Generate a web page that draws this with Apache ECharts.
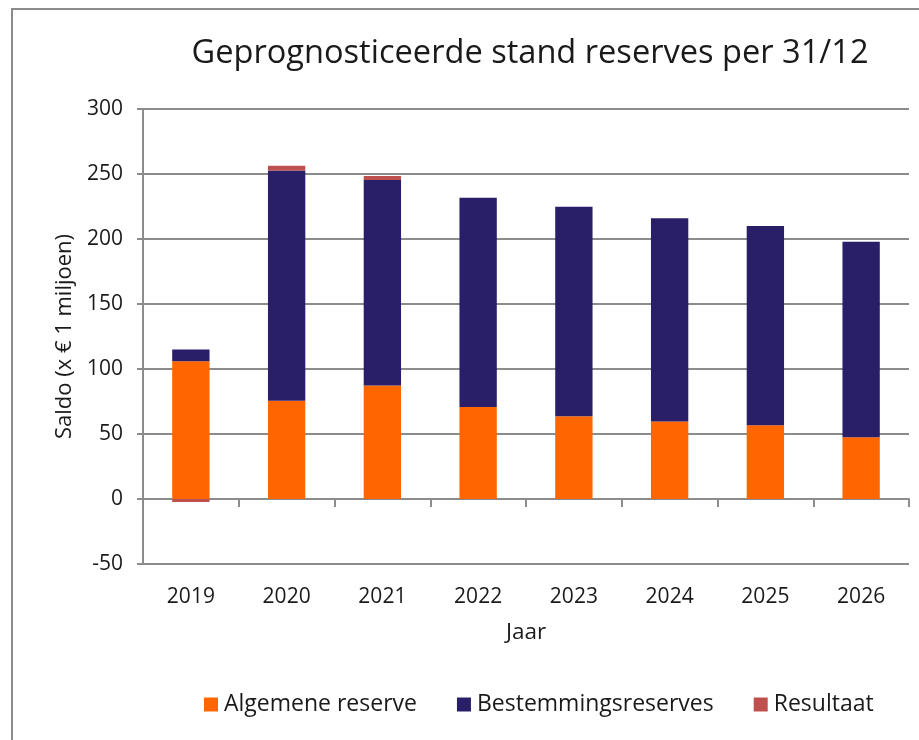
<!DOCTYPE html>
<html>
<head>
<meta charset="utf-8">
<script src="https://cdn.jsdelivr.net/npm/echarts@6/dist/echarts.min.js"></script>
<style>html,body{margin:0;padding:0;background:#fff}#c{width:919px;height:740px}</style>
</head>
<body>
<div id="c"></div>
<script>
const categories = ['2019','2020','2021','2022','2023','2024','2025','2026'];
const algemeneReserve = [106, 75.6, 87.4, 70.7, 63.7, 59.6, 56.8, 47.5];
const bestemmingsreserves = [9, 177, 158, 161, 161.2, 156.3, 153.2, 150.4];
const resultaat = [-2.3, 3.8, 3, 0, 0, 0, 0, 0];
const yMin = -50, yMax = 300, yStep = 50;

const FONT = 'Open Sans';
const TXT = '#1a1a1a';
const GRID = '#8c8c8c';

const chart = echarts.init(document.getElementById('c'), null, {renderer: 'canvas'});
chart.setOption({
  animation: false,
  backgroundColor: '#fff',
  textStyle: {fontFamily: FONT},
  graphic: [{
    type: 'rect', shape: {x: 12, y: 9, width: 1000, height: 1000},
    style: {fill: 'none', stroke: '#8c8c8c', lineWidth: 2}, silent: true, z: -10
  }],
  title: {
    text: 'Geprognosticeerde stand reserves per 31/12',
    left: 525, top: 32, textAlign: 'center',
    textStyle: {fontFamily: FONT, fontSize: 32.6, fontWeight: 'normal', color: TXT}
  },
  legend: {
    left: 199, top: 688,
    itemWidth: 14, itemHeight: 14, itemGap: 40,
    icon: 'rect',
    textStyle: {fontFamily: FONT, fontSize: 23, color: TXT, padding: [0,0,0,1]},
    data: ['Algemene reserve', 'Bestemmingsreserves', 'Resultaat']
  },
  grid: {left: 143, right: 10, top: 109, bottom: 176, containLabel: false},
  xAxis: [{
    type: 'category', data: categories, position: 'bottom',
    name: 'Jaar', nameLocation: 'middle', nameGap: 57,
    nameTextStyle: {fontFamily: FONT, fontSize: 22.5, color: TXT},
    axisLine: {show: false, onZero: false},
    axisTick: {show: false},
    axisLabel: {fontFamily: FONT, fontSize: 21, color: TXT, margin: 23}
  }, {
    type: 'category', data: categories, position: 'bottom',
    axisLine: {show: true, onZero: true, onZeroAxisIndex: 0, lineStyle: {color: GRID, width: 2}},
    axisTick: {show: true, length: 8, lineStyle: {color: GRID, width: 2}},
    axisLabel: {show: false}
  }],
  yAxis: {
    type: 'value', min: yMin, max: yMax, interval: yStep,
    name: 'Saldo (x € 1 miljoen)', nameLocation: 'middle', nameGap: 67, nameRotate: 90,
    nameTextStyle: {fontFamily: FONT, fontSize: 22, color: TXT},
    axisLine: {show: true, lineStyle: {color: GRID, width: 2}},
    axisTick: {show: true, length: 6, lineStyle: {color: GRID, width: 2}},
    axisLabel: {fontFamily: FONT, fontSize: 21, color: TXT, margin: 20},
    splitLine: {show: true, lineStyle: {color: GRID, width: 2}}
  },
  series: [{
    name: 'Algemene reserve', type: 'bar', stack: 'total', barWidth: '39%',
    itemStyle: {color: '#FF6600'}, data: algemeneReserve
  }, {
    name: 'Bestemmingsreserves', type: 'bar', stack: 'total', barWidth: '39%',
    itemStyle: {color: '#281F68'}, data: bestemmingsreserves
  }, {
    name: 'Resultaat', type: 'bar', stack: 'total', barWidth: '39%',
    itemStyle: {color: '#C0504D'}, data: resultaat
  }]
});
</script>
</body>
</html>
